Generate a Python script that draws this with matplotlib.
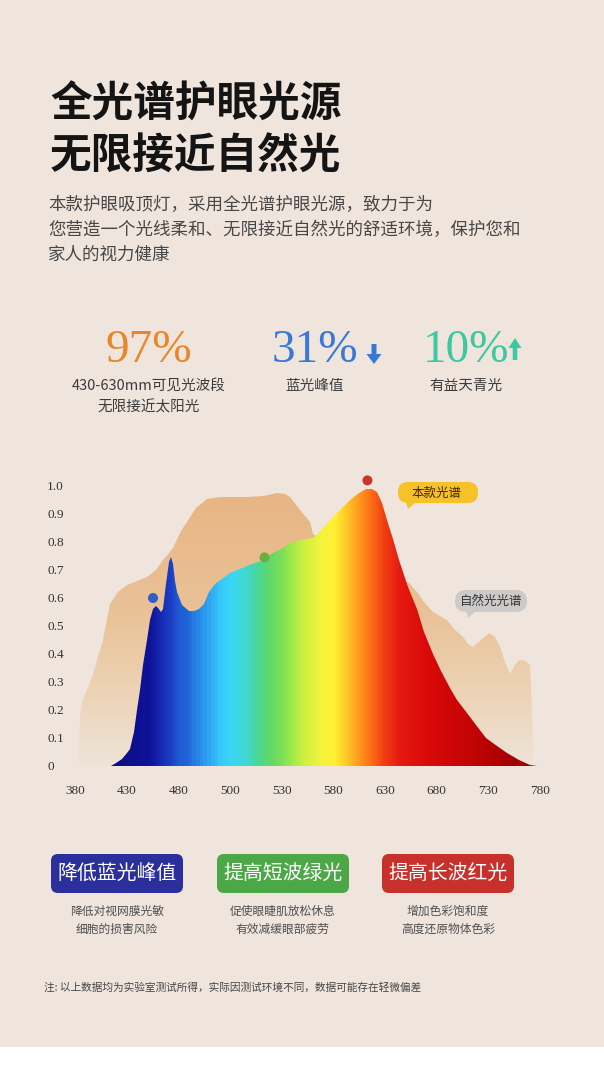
import numpy as np
import matplotlib
matplotlib.use("Agg")
from matplotlib import pyplot as plt
from matplotlib.colors import LinearSegmentedColormap
from matplotlib.patches import FancyBboxPatch, Polygon, Rectangle, FancyArrow

plt.rcParams['font.family'] = ['Noto Sans CJK SC', 'DejaVu Sans']

# axis labels (the wavelength ticks are evenly spaced on screen, not in value)
tick_wl = [380, 430, 480, 500, 530, 580, 630, 680, 730, 780]
tick_y = [0, 0.1, 0.2, 0.3, 0.4, 0.5, 0.6, 0.7, 0.8, 0.9, 1.0]
tick_y_labels = ["0", "0.1", "0.2", "0.3", "0.4", "0.5", "0.6", "0.7", "0.8", "0.9", "1.0"]

# natural light spectrum (tan)
nat_wl = [384, 385, 388, 392, 397, 401, 407, 414, 422, 430, 440, 450, 458, 465, 471,
          475, 481, 487, 491, 496, 500, 510, 520, 527, 533, 538, 548, 557, 560, 580,
          600, 630, 654, 661, 668, 676, 683, 690, 697, 705, 710, 715, 722, 731, 736,
          741, 746, 751, 756, 760, 765, 770, 772, 773]
nat_val = [0, 0.18, 0.24, 0.27, 0.33, 0.38, 0.45, 0.58, 0.62, 0.645, 0.66, 0.675, 0.70,
           0.735, 0.76, 0.78, 0.84, 0.92, 0.955, 0.96, 0.96, 0.96, 0.965, 0.975, 0.97,
           0.96, 0.915, 0.87, 0.83, 0.78, 0.74, 0.70, 0.65, 0.62, 0.585, 0.55, 0.535,
           0.52, 0.49, 0.46, 0.435, 0.425, 0.445, 0.475, 0.46, 0.425, 0.37, 0.33, 0.36,
           0.38, 0.375, 0.36, 0.2, 0]

# this lamp's spectrum (rainbow)
lamp_wl = [415, 420, 425, 430, 433, 437, 440, 443, 446, 450, 453, 455.5, 458, 460.5, 463,
           465, 468, 471, 472.5, 474.5, 477, 479, 481.5, 484, 486, 488, 490, 492, 494,
           500, 510, 519, 525, 531, 540, 554, 560, 570, 580, 590, 596, 605, 612, 617,
           622, 627, 632, 638, 644, 652, 661, 668, 676, 684, 693, 700, 709, 718, 728,
           738, 748, 760, 770, 777]
lamp_val = [0, 0.01, 0.025, 0.045, 0.06, 0.12, 0.2, 0.27, 0.36, 0.45, 0.52, 0.56, 0.57,
            0.565, 0.55, 0.56, 0.65, 0.73, 0.745, 0.72, 0.66, 0.62, 0.575, 0.555, 0.552,
            0.56, 0.58, 0.62, 0.65, 0.69, 0.715, 0.735, 0.76, 0.78, 0.80, 0.81, 0.815,
            0.85, 0.89, 0.93, 0.95, 0.975, 0.99, 0.99, 0.98, 0.94, 0.88, 0.81, 0.735,
            0.64, 0.56, 0.48, 0.40, 0.34, 0.28, 0.235, 0.19, 0.145, 0.10, 0.07, 0.045,
            0.02, 0.005, 0]

# marker dots
dot_wl = [455.5, 520, 613]
dot_val = [0.60, 0.745, 1.02]
dot_col = ['#2d5fcb', '#6cae45', '#c6372c']

# rainbow colour stops (wavelength, colour)
rainbow_wl = [415, 452, 472, 483, 490, 496, 500, 509, 516, 523, 538, 552, 567, 581,
              601, 615, 630, 644, 673, 712, 750, 777]
rainbow_col = ['#0c0c82', '#0f129a', '#1a3ec4', '#2266da', '#2a98ee', '#34c8f8',
               '#3ad6f6', '#40d8d0', '#48d898', '#62d866', '#9ae848', '#d0f040',
               '#f2f23e', '#fff030', '#ffaa20', '#ff7418', '#f03c10', '#e51a10',
               '#d80808', '#c40404', '#a80000', '#880606']

# stats row
stat_values = ["97%", "31%", "10%"]
stat_colors = ['#e8862c', '#3a78d8', '#3cc8a0']
stat_labels = [["430-630mm可见光波段", "无限接近太阳光"], ["蓝光峰值"], ["有益天青光"]]

# badges
badge_titles = ["降低蓝光峰值", "提高短波绿光", "提高长波红光"]
badge_colors = ['#2b2f9c', '#4ca846', '#c8302c']
badge_texts = [["降低对视网膜光敏", "细胞的损害风险"],
               ["促使眼睫肌放松休息", "有效减缓眼部疲劳"],
               ["增加色彩饱和度", "高度还原物体色彩"]]

W, H = 604, 1080
BG = '#efe5dd'


def main():
    fig = plt.figure(figsize=(W / 100, H / 100), dpi=100, facecolor='white')

    # pixel-space canvas for text and decorations
    bg = fig.add_axes([0, 0, 1, 1])
    bg.set_xlim(0, W)
    bg.set_ylim(H, 0)
    bg.axis('off')
    bg.add_patch(Rectangle((0, 0), W, 1047, color=BG, lw=0))

    # title + intro
    bg.text(50, 105, "全光谱护眼光源", fontsize=30, weight='bold', color='#141414', va='center')
    bg.text(50, 157, "无限接近自然光", fontsize=30, weight='bold', color='#141414', va='center')
    intro = ["本款护眼吸顶灯，采用全光谱护眼光源，致力于为",
             "您营造一个光线柔和、无限接近自然光的舒适环境，保护您和",
             "家人的视力健康"]
    for i, line in enumerate(intro):
        bg.text(48, 205 + 25 * i, line, fontsize=12.6, color='#474747', va='center')

    # stats
    xs = [149, 315, 466]
    for x, v, c, labs in zip(xs, stat_values, stat_colors, stat_labels):
        bg.text(x, 351, v, fontsize=34, color=c, ha='center', va='center',
                family=['Liberation Serif', 'DejaVu Serif'])
        for j, lab in enumerate(labs):
            bg.text(x, 386 + 21 * j, lab, fontsize=10.5, color='#3c3c3c', ha='center', va='center')
    bg.add_patch(FancyArrow(374, 344, 0, 20, width=5, head_width=15, head_length=10,
                            length_includes_head=True, color='#3a78d8', lw=0))
    bg.add_patch(FancyArrow(515, 360, 0, -22, width=4.5, head_width=13, head_length=10,
                            length_includes_head=True, color='#3cc8a0', lw=0))

    # bubbles for legend
    bg.add_patch(FancyBboxPatch((398, 482), 80, 21, boxstyle="round,pad=0,rounding_size=10",
                                fc='#f7c12a', ec='none'))
    bg.add_patch(Polygon([[406, 502], [416, 502], [408, 509]], fc='#f7c12a', ec='none'))
    bg.text(437, 493, "本款光谱", fontsize=9, color='#3a2810', ha='center', va='center')
    bg.add_patch(FancyBboxPatch((455, 590), 72, 22, boxstyle="round,pad=0,rounding_size=11",
                                fc='#cdcbca', ec='none'))
    bg.add_patch(Polygon([[466, 611], [476, 611], [468, 618]], fc='#cdcbca', ec='none'))
    bg.text(491, 601, "自然光光谱", fontsize=9, color='#333333', ha='center', va='center')

    # badges
    bxs = [117, 283, 448]
    for x, t, c, lines in zip(bxs, badge_titles, badge_colors, badge_texts):
        bg.add_patch(FancyBboxPatch((x - 66, 854), 132, 39, boxstyle="round,pad=0,rounding_size=7",
                                    fc=c, ec='none'))
        bg.text(x, 873.5, t, fontsize=14.3, color='white', ha='center', va='center')
        for j, ln in enumerate(lines):
            bg.text(x, 911.5 + 17.5 * j, ln, fontsize=8.5, color='#505050', ha='center', va='center')

    bg.text(44, 987, "注: 以上数据均为实验室测试所得，实际因测试环境不同，数据可能存在轻微偏差",
            fontsize=7.7, color='#454545', va='center')

    # spectrum chart
    ax = fig.add_axes([75 / W, (H - 766) / H, 465 / W, 280 / H])
    ax.patch.set_alpha(0)
    idx = np.arange(len(tick_wl))
    fwd = lambda w: np.interp(w, tick_wl, idx)
    inv = lambda i: np.interp(i, idx, tick_wl)
    ax.set_xscale('function', functions=(fwd, inv))
    ax.set_xlim(380, 780)
    ax.set_ylim(0, 1.0)
    for s in ax.spines.values():
        s.set_visible(False)

    # natural light: tan with vertical fade
    tan_cmap = LinearSegmentedColormap.from_list(
        'tan', [(0, '#eee3d8'), (0.25, '#ecd3b6'), (0.55, '#e9c197'), (1.0, '#e8b482')])
    nat_poly = ax.fill_between(nat_wl, nat_val, 0, color='none', lw=0)
    gy = np.linspace(0, 1.0, 120)
    gx = np.array([380, 780])
    mesh = ax.pcolormesh(gx, gy, ((gy[:-1] + gy[1:]) / 2)[:, None], cmap=tan_cmap,
                         vmin=0, vmax=1, shading='flat', rasterized=True)
    mesh.set_clip_path(nat_poly.get_paths()[0], transform=ax.transData)

    # lamp spectrum: rainbow
    pos = (np.array(rainbow_wl) - rainbow_wl[0]) / (rainbow_wl[-1] - rainbow_wl[0])
    rb_cmap = LinearSegmentedColormap.from_list('rb', list(zip(pos, rainbow_col)))
    lamp_poly = ax.fill_between(lamp_wl, lamp_val, 0, color='none', lw=0)
    rx = np.linspace(rainbow_wl[0], rainbow_wl[-1], 500)
    ry = np.array([0, 1.05])
    rmesh = ax.pcolormesh(rx, ry, ((rx[:-1] + rx[1:]) / 2)[None, :], cmap=rb_cmap,
                          vmin=rainbow_wl[0], vmax=rainbow_wl[-1], shading='flat',
                          rasterized=True, zorder=3)
    rmesh.set_clip_path(lamp_poly.get_paths()[0], transform=ax.transData)

    ax.scatter(dot_wl, dot_val, s=52, c=dot_col, zorder=5, clip_on=False, lw=0)

    ax.set_xticks(tick_wl)
    ax.set_xticklabels([str(t) for t in tick_wl])
    ax.xaxis.set_minor_locator(plt.NullLocator())
    ax.set_yticks(tick_y)
    ax.set_yticklabels(tick_y_labels)
    ax.tick_params(length=0, labelsize=9.5, labelcolor='#333333')
    ax.tick_params(axis='x', pad=14)
    ax.tick_params(axis='y', pad=20)
    for lab in ax.get_xticklabels() + ax.get_yticklabels():
        lab.set_family(['Liberation Serif', 'DejaVu Serif'])
    for lab in ax.get_yticklabels():
        lab.set_horizontalalignment('left')

    fig.savefig("out.png", dpi=100, facecolor='white')


if __name__ == "__main__":
    main()
